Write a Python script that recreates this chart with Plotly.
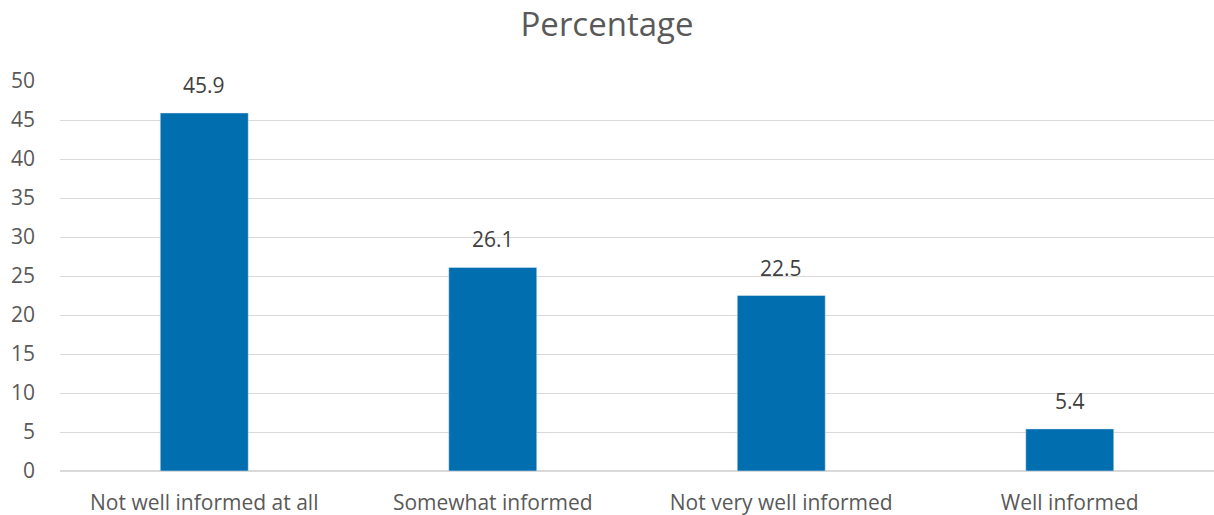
import plotly.graph_objects as go

categories = ["Not well informed at all", "Somewhat informed", "Not very well informed", "Well informed"]
values = [45.9, 26.1, 22.5, 5.4]
y_ticks = [0, 5, 10, 15, 20, 25, 30, 35, 40, 45, 50]

fig = go.Figure(go.Bar(
    x=categories, y=values,
    marker_color="#006eaf",
    width=0.305,
))

for c, v in zip(categories, values):
    fig.add_annotation(x=c, y=v, text=f"{v:.1f}", showarrow=False,
                       yanchor="bottom", yshift=12,
                       font=dict(size=21, color="#404040"))

fig.update_layout(
    width=1214, height=515,
    margin=dict(l=60, r=0, t=81, b=44),
    paper_bgcolor="white", plot_bgcolor="white",
    font=dict(family="Open Sans, Liberation Sans, sans-serif", color="#595959"),
    title=dict(text="Percentage", x=0.5, xanchor="center", y=0.953, yanchor="middle",
               font=dict(size=33, color="#595959")),
    showlegend=False,
)
fig.update_yaxes(range=[0, 50], tickvals=y_ticks, showgrid=True, gridcolor="#d9d9d9",
                 zeroline=True, zerolinecolor="#d9d9d9", tickfont=dict(size=21),
                 ticks="", ticklen=0, showline=False, ticklabelstandoff=24,
                 automargin=False)
fig.update_xaxes(tickfont=dict(size=21), showline=True, linecolor="#d9d9d9", ticks="",
                 ticklabelstandoff=13, automargin=False)

fig.write_html("out.html")
